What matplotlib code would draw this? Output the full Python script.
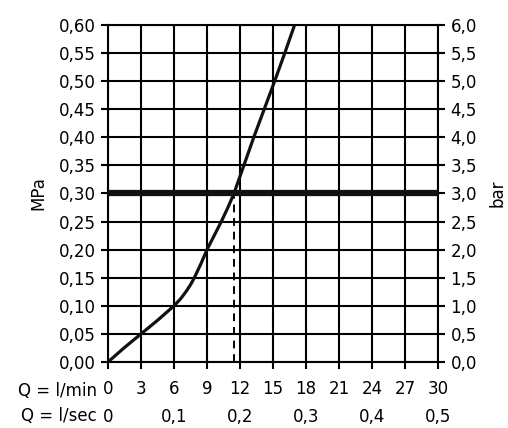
import matplotlib
matplotlib.use("Agg")
import matplotlib.pyplot as plt

# ==============================
# DATA
# ==============================
flow_lmin = [0, 1.45, 3.0, 4.55, 6.0, 6.6, 7.08, 7.5, 7.85, 8.45, 9.0, 9.65,
             10.3, 10.9, 11.45, 11.9, 12.35, 12.8, 13.25, 14.2, 15.15, 16.07, 16.96]
pressure_mpa = [0, 0.025, 0.05, 0.075, 0.10, 0.1125, 0.125, 0.1375, 0.15, 0.175,
                0.20, 0.225, 0.25, 0.275, 0.30, 0.325, 0.35, 0.375, 0.40, 0.45,
                0.50, 0.55, 0.60]

ref_pressure = 0.30
ref_flow = 11.45

lmin_ticks = [0, 3, 6, 9, 12, 15, 18, 21, 24, 27, 30]
lsec_ticks = [0, 0.1, 0.2, 0.3, 0.4, 0.5]
mpa_ticks = [0, 0.05, 0.10, 0.15, 0.20, 0.25, 0.30, 0.35, 0.40, 0.45, 0.50, 0.55, 0.60]
bar_ticks = [0, 0.5, 1.0, 1.5, 2.0, 2.5, 3.0, 3.5, 4.0, 4.5, 5.0, 5.5, 6.0]


def comma(v, nd):
    return f"{v:.{nd}f}".replace(".", ",")


plt.rcParams["font.family"] = ["DejaVu Sans"]
plt.rcParams["font.size"] = 12

fig = plt.figure(figsize=(5.08, 4.28), dpi=100)
ax = fig.add_axes([0.2126, 0.1542, 0.6496, 0.7874])

ax.set_xlim(0, 30)
ax.set_ylim(0, 0.60)

# grid
ax.set_xticks(lmin_ticks)
ax.set_yticks(mpa_ticks)
ax.grid(True, color="black", linewidth=1.5)
ax.set_axisbelow(True)
for s in ax.spines.values():
    s.set_linewidth(1.5)

# curve + reference lines
ax.plot(flow_lmin, pressure_mpa, color="#111111", linewidth=2.3,
        solid_joinstyle="round", solid_capstyle="butt", zorder=4)
ax.axhline(ref_pressure, color="#111111", linewidth=4.5, zorder=5)
ax.plot([ref_flow, ref_flow], [0, ref_pressure], color="black",
        linewidth=1.4, linestyle=(0, (4, 3)), zorder=3)

# left axis
ax.set_xticklabels([str(t) for t in lmin_ticks])
ax.set_yticklabels([comma(t, 2) for t in mpa_ticks])
ax.tick_params(axis="both", length=5, width=1.5, color="black", pad=4)
ax.tick_params(axis="x", pad=8)
ax.set_ylabel("MPa", labelpad=8)

# right axis (bar)
ax2 = ax.twinx()
ax2.set_ylim(0, 6.0)
ax2.set_yticks(bar_ticks)
ax2.set_yticklabels([comma(t, 1) for t in bar_ticks])
ax2.tick_params(axis="y", length=5, width=1.5, pad=4)
ax2.set_ylabel("bar", labelpad=8)
for s in ax2.spines.values():
    s.set_visible(False)

# second flow scale (l/sec)
sec = ax.secondary_xaxis(0, functions=(lambda q: q / 60.0, lambda s: s * 60.0))
sec.set_xticks(lsec_ticks)
sec.set_xticklabels(["0"] + [comma(t, 1) for t in lsec_ticks[1:]])
sec.tick_params(axis="x", length=0, pad=33)
sec.spines["bottom"].set_visible(False)

ax.text(-0.034, -0.086, "Q = l/min", transform=ax.transAxes,
        ha="right", va="center", fontsize=12)
ax.text(-0.034, -0.161, "Q = l/sec", transform=ax.transAxes,
        ha="right", va="center", fontsize=12)

fig.savefig("out.png", dpi=100, facecolor="white")
